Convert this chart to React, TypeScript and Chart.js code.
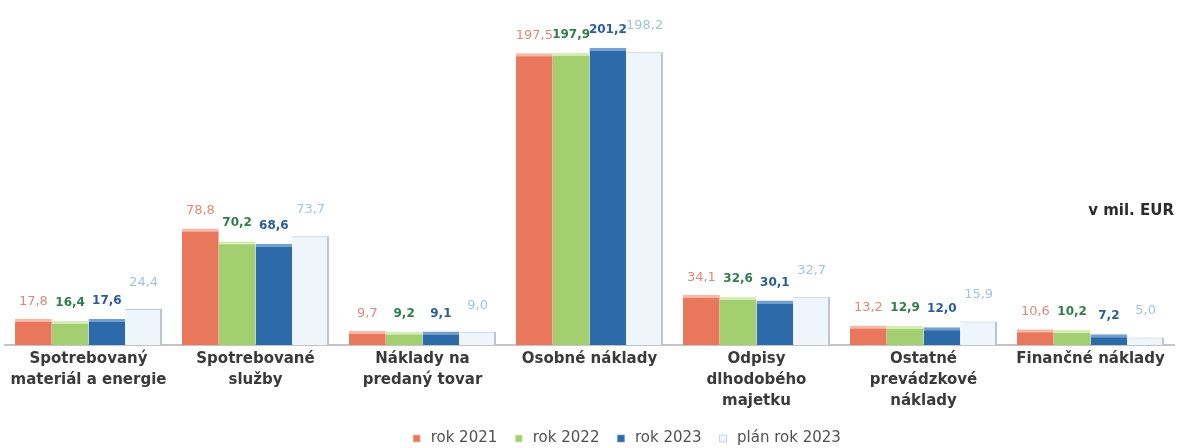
import React, { useEffect, useRef } from "react";
import { Chart, registerables } from "chart.js";

Chart.register(...registerables);

const categories: string[][] = [
  ["Spotrebovaný", "materiál a energie"],
  ["Spotrebované", "služby"],
  ["Náklady na", "predaný tovar"],
  ["Osobné náklady"],
  ["Odpisy", "dlhodobého", "majetku"],
  ["Ostatné", "prevádzkové", "náklady"],
  ["Finančné náklady"],
];

const rok2021 = [17.8, 78.8, 9.7, 197.5, 34.1, 13.2, 10.6];
const rok2022 = [16.4, 70.2, 9.2, 197.9, 32.6, 12.9, 10.2];
const rok2023 = [17.6, 68.6, 9.1, 201.2, 30.1, 12.0, 7.2];
const plan2023 = [24.4, 73.7, 9.0, 198.2, 32.7, 15.9, 5.0];

const seriesNames = ["rok 2021", "rok 2022", "rok 2023", "plán rok 2023"];
const unitLabel = "v mil. EUR";

const FONT = '"DejaVu Sans", Verdana, sans-serif';

const labelStyles = [
  { color: "#d98a7c", font: `normal 13px ${FONT}`, offset: 11 },
  { color: "#2f7d4a", font: `bold 12px ${FONT}`, offset: 12 },
  { color: "#2a5d94", font: `bold 12px ${FONT}`, offset: 12 },
  { color: "#a3c3de", font: `normal 13px ${FONT}`, offset: 20 },
];

const valueLabelPlugin = {
  id: "valueLabels",
  afterLayout(chart: any) {
    const lg = chart.legend;
    if (lg) {
      lg.left += 36;
      lg.right += 36;
    }
  },
  afterDatasetsDraw(chart: any) {
    const ctx = chart.ctx;
    ctx.save();
    chart.data.datasets.forEach((ds: any, i: number) => {
      const meta = chart.getDatasetMeta(i);
      const st = labelStyles[i];
      ctx.fillStyle = st.color;
      ctx.font = st.font;
      ctx.textAlign = "center";
      ctx.textBaseline = "bottom";
      meta.data.forEach((bar: any, j: number) => {
        const v = ds.data[j] as number;
        ctx.fillText(v.toFixed(1).replace(".", ","), bar.x, bar.y - st.offset);
      });
    });
    ctx.restore();
  },
  afterDraw(chart: any) {
    const ctx = chart.ctx;
    ctx.save();
    ctx.fillStyle = "#2b2b2b";
    ctx.font = `bold 15px ${FONT}`;
    ctx.textAlign = "right";
    ctx.textBaseline = "middle";
    ctx.fillText(unitLabel, 1174, 211);
    ctx.restore();
  },
};

export default function App() {
  const canvasRef = useRef<HTMLCanvasElement | null>(null);

  useEffect(() => {
    if (!canvasRef.current) return;
    const chart = new Chart(canvasRef.current, {
      type: "bar",
      data: {
        labels: categories,
        datasets: [
          {
            label: seriesNames[0],
            data: rok2021,
            backgroundColor: "#e8775c",
            borderColor: "#f6b9a8",
            borderWidth: { top: 3, left: 0, right: 0, bottom: 0 },
            borderSkipped: false,
          },
          {
            label: seriesNames[1],
            data: rok2022,
            backgroundColor: "#a3cf70",
            borderColor: "#d6edba",
            borderWidth: { top: 3, left: 0, right: 0, bottom: 0 },
            borderSkipped: false,
          },
          {
            label: seriesNames[2],
            data: rok2023,
            backgroundColor: "#2d6aaa",
            borderColor: "#709fd0",
            borderWidth: { top: 3, left: 0, right: 0, bottom: 0 },
            borderSkipped: false,
          },
          {
            label: seriesNames[3],
            data: plan2023,
            backgroundColor: "#eef5fb",
            borderColor: "#b9c6d2",
            borderWidth: { top: 1, left: 0, right: 2, bottom: 0 },
            borderSkipped: false,
          },
        ],
      },
      options: {
        animation: false,
        responsive: false,
        maintainAspectRatio: false,
        layout: { padding: { top: 20, left: 5, right: 5, bottom: -8 } },
        datasets: {
          bar: { barPercentage: 1.0, categoryPercentage: 0.88 },
        },
        scales: {
          x: {
            grid: { display: false, drawTicks: false },
            border: { display: true, color: "#c4c4c4", width: 2 },
            ticks: {
              color: "#3a3a3a",
              font: { family: FONT, size: 15, weight: "bold", lineHeight: 1.4 },
              maxRotation: 0,
              autoSkip: false,
              padding: 4,
            },
          },
          y: {
            display: false,
            min: 0,
            max: 220,
          },
        },
        plugins: {
          tooltip: { enabled: false },
          legend: {
            position: "bottom",
            labels: {
              color: "#505050",
              font: { family: FONT, size: 15 },
              usePointStyle: true,
              pointStyle: "rect",
              boxWidth: 13,
              boxHeight: 7,
              padding: 15,
            },
          },
        },
      },
      plugins: [valueLabelPlugin],
    });
    return () => chart.destroy();
  }, []);

  return (
    <div style={{ position: "absolute", left: 0, top: 0, width: 1179, height: 448, background: "#ffffff" }}>
      <canvas ref={canvasRef} width={1179} height={448} />
    </div>
  );
}
